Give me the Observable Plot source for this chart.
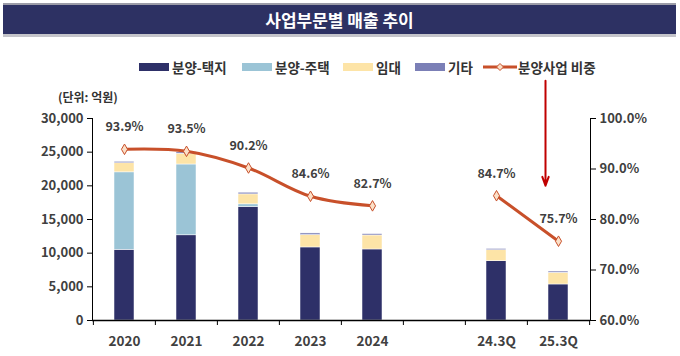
<!DOCTYPE html>
<html><head><meta charset="utf-8">
<script src="https://cdn.jsdelivr.net/npm/d3@7"></script>
<script src="https://cdn.jsdelivr.net/npm/@observablehq/plot@0.6"></script>
<style>
body{margin:0;background:#fff;font-family:"Noto Sans CJK KR","Noto Sans",sans-serif;}
#wrap{position:relative;width:680px;height:356px;overflow:hidden;}
#title{position:absolute;left:3px;top:3px;width:673px;height:29px;background:#2d3163;border-top:2px solid #9c9ca8;border-bottom:3px solid #c4c4ca;color:#fff;font-weight:bold;font-size:17px;line-height:29px;text-align:center;}
.lg{position:absolute;top:57px;display:flex;align-items:center;font-size:13.5px;font-weight:bold;color:#333;white-space:nowrap;}
.sw{display:inline-block;width:30px;height:8px;margin-right:3px;}
#unit{position:absolute;left:58px;top:88px;font-size:12px;font-weight:bold;color:#333;}
#chart{position:absolute;left:0;top:80px;}
</style></head>
<body><div id="wrap">
<div id="title">사업부문별 매출 추이</div>
<div id="legend"></div>
<div id="unit">(단위: 억원)</div>
<div id="chart"></div>
</div>
<script>
const categories = ["2020","2021","2022","2023","2024","","24.3Q","25.3Q"];
const periods = ["2020","2021","2022","2023","2024","24.3Q","25.3Q"];
const seriesNames = ["분양-택지","분양-주택","임대","기타"];
const landSale    = [10500, 12650, 16850, 10850, 10550, 8800, 5350];
const housingSale = [11500, 10520,   400,     0,     0,    0,    0];
const rental      = [ 1350,  1600,  1480,  1830,  2080, 1630, 1730];
const other       = [  220,   200,   250,   250,   200,  200,  190];
const shareName = "분양사업 비중";
const share = [93.9, 93.5, 90.2, 84.6, 82.7, 84.7, 75.7];
const shareGroup = ["annual","annual","annual","annual","annual","quarter","quarter"];
const leftTicks = [0, 5000, 10000, 15000, 20000, 25000, 30000];
const rightTicks = [60, 70, 80, 90, 100];
const arrowNote = [{x: "25.3Q", from: 107.5, to: 86.7}];

const colors = ["#2e3068", "#9bc4d6", "#fde4a7", "#7b7fb6"];
const lineColor = "#c8502a";

const W = 680, H = 276, mL = 92, mR = 90, mT = 38, mB = 36;
const step = (W - mL - mR) / categories.length;
const toLeft = p => (p - 60) / 40 * 30000;
const fromLeft = v => v / 30000 * 40 + 60;

const seriesValues = [landSale, housingSale, rental, other];
const rows = periods.flatMap((p, i) => seriesNames.map((s, k) => ({period: p, series: s, value: seriesValues[k][i]})));
const lineRows = periods.map((p, i) => ({period: p, share: share[i], group: shareGroup[i]}));

// legend
const legend = document.getElementById("legend");
const lgLeft = [139, 242, 343, 415, 483];
seriesNames.forEach((s, k) => {
  const d = document.createElement("div");
  d.className = "lg"; d.style.left = lgLeft[k] + "px";
  d.innerHTML = `<span class="sw" style="background:${colors[k]}"></span>${s}`;
  legend.appendChild(d);
});
{
  const d = document.createElement("div");
  d.className = "lg"; d.style.left = lgLeft[4] + "px";
  d.innerHTML = `<svg width="34" height="12" style="margin-right:1px"><line x1="0" y1="6" x2="34" y2="6" stroke="${lineColor}" stroke-width="3"/><path d="M17 2.5 L20.5 6 L17 9.5 L13.5 6 Z" fill="#fbe0c8" stroke="${lineColor}" stroke-width="1"/></svg>${shareName}`;
  legend.appendChild(d);
}

const plot = Plot.plot({
  width: W, height: H,
  marginLeft: mL, marginRight: mR, marginTop: mT, marginBottom: mB,
  style: {fontFamily: '"Noto Sans CJK KR","Noto Sans",sans-serif', fontSize: "13px", fontWeight: "bold", color: "#404040", overflow: "visible"},
  x: {domain: categories, paddingInner: 0.68, paddingOuter: 0.34},
  y: {domain: [0, 30000]},
  color: {domain: seriesNames, range: colors},
  marks: [
    Plot.barY(rows, {x: "period", y: "value", fill: "series", order: seriesNames, stroke: "white", strokeWidth: 0.5}),
    Plot.frame({anchor: "left", stroke: "#000"}),
    Plot.frame({anchor: "right", stroke: "#000"}),
    Plot.ruleY([0], {stroke: "#000", strokeWidth: 1.5}),
    Plot.ruleX(categories, {x: d => d, y1: 0, y2: 0, insetBottom: -5, dx: -step / 2, stroke: "#000"}),
    Plot.ruleX(categories.slice(-1), {x: d => d, y1: 0, y2: 0, insetBottom: -5, dx: step / 2, stroke: "#000"}),
    Plot.axisY({ticks: leftTicks, tickFormat: d3.format(","), tickSize: 5, tickPadding: 4, label: null, fill: "#404040", stroke: "#000"}),
    Plot.axisY(rightTicks.map(toLeft), {anchor: "right", tickFormat: v => fromLeft(v).toFixed(1) + "%", tickSize: 5, tickPadding: 4, label: null, fill: "#404040", stroke: "#000"}),
    Plot.axisX({tickSize: 0, tickPadding: 16, label: null, tickFormat: d => d, fontSize: 13.5, fill: "#404040"}),
    Plot.line(lineRows, {x: "period", y: d => toLeft(d.share), z: "group", stroke: lineColor, strokeWidth: 3, curve: "catmull-rom"}),
    Plot.dot(lineRows, {x: "period", y: d => toLeft(d.share), symbol: "diamond", r: 3.2, fill: "#fbe0c8", stroke: lineColor, strokeWidth: 1}),
    Plot.text(lineRows, {x: "period", y: d => toLeft(d.share), text: d => d.share.toFixed(1) + "%", dy: -22, fontSize: 12.5, fontWeight: "bold", fill: "#404040"}),
    Plot.arrow(arrowNote, {x: "x", y1: d => toLeft(d.from), y2: d => toLeft(d.to), dx: -13, stroke: "#c00000", strokeWidth: 2, headLength: 7, headAngle: 40, bend: 0})
  ]
});
document.getElementById("chart").appendChild(plot);
</script>
</body></html>
